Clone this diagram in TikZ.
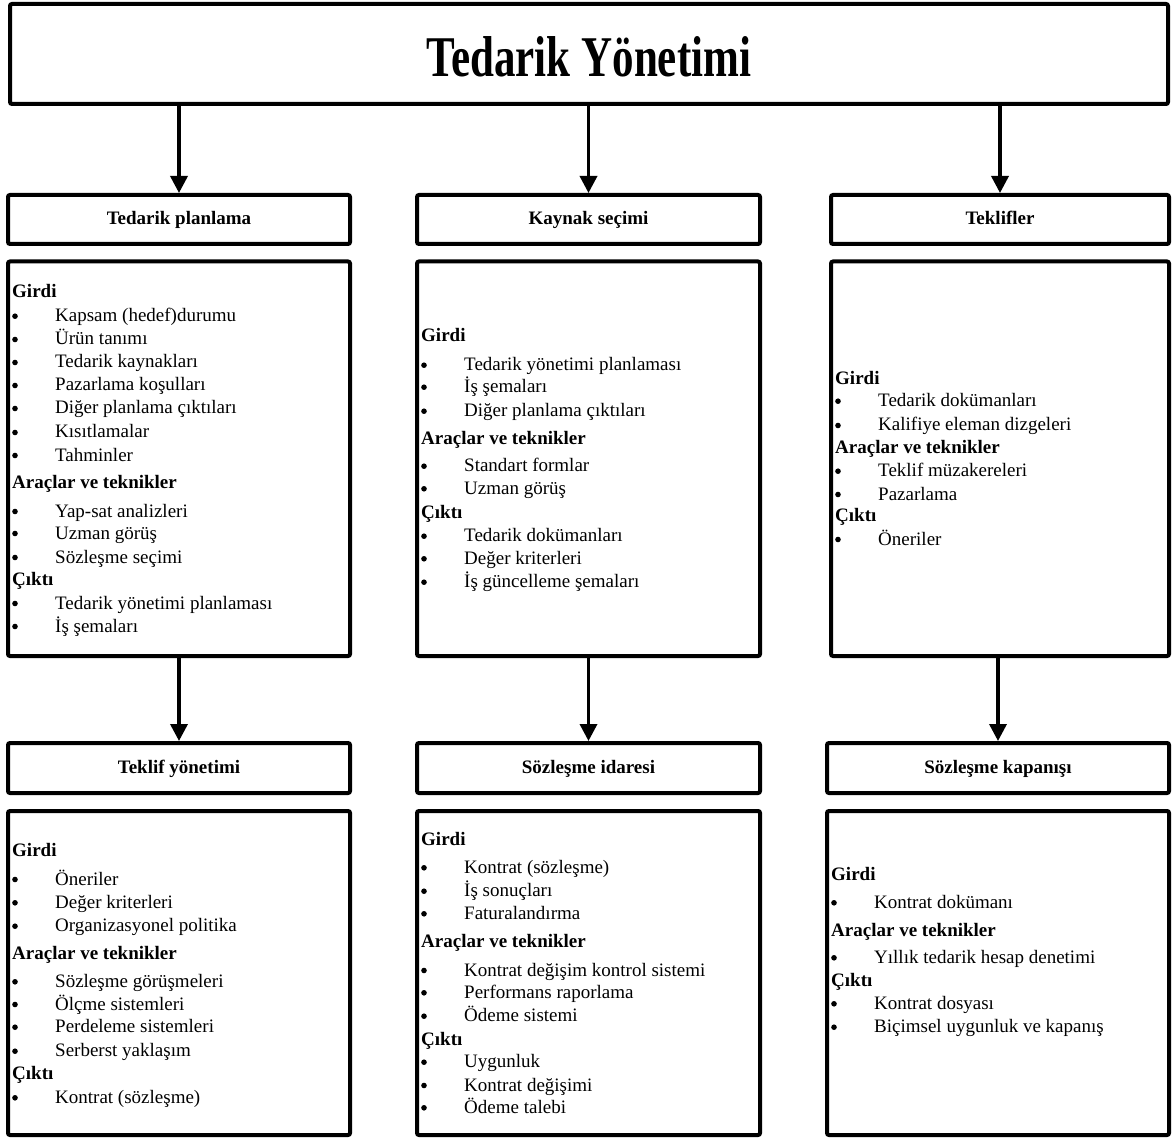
\documentclass[tikz,border=0pt]{standalone}
\usepackage{fontspec}
\setmainfont{Liberation Serif}
\usepackage{graphicx}
\usetikzlibrary{arrows.meta}

\tikzset{
  box/.style={draw, line width=4pt, rounded corners=2pt, outer sep=0pt, inner sep=0pt},
  hdbox/.style={box, font=\fontsize{19}{23}\selectfont\bfseries, text height=14pt, text depth=3pt},
  flow/.style={-{Triangle[width=17pt,length=17pt]}, line width=3.5pt, shorten >=2pt, shorten <=2pt},
  grpfont/.style={anchor=base west, inner sep=0pt, font=\fontsize{19}{23}\selectfont\bfseries},
  itmfont/.style={anchor=base west, inner sep=0pt, font=\fontsize{19}{23}\selectfont},
  dot/.style={circle, fill, inner sep=0pt, minimum size=5.6pt},
}
% group heading: x, baseline y, text
\newcommand{\grp}[3]{\node[grpfont] at (#1,#2) {#3};}
% bulleted entry: x of the bullet column, baseline y, text
\newcommand{\itm}[3]{\node[dot] at (#1+3,#2-5.5) {};\node[itmfont] at (#1+43,#2) {#3};}

\begin{document}
\begin{tikzpicture}[x=1pt,y=-1pt]
\useasboundingbox (0,0) rectangle (1173,1139);

% title
\node[box, minimum width=1158pt, minimum height=100pt] (title) at (589,54) {};
\node[anchor=base, inner sep=0pt] (titletext) at (588.8,76.7)
  {\scalebox{1}[1.34]{\fontsize{43}{50}\selectfont\bfseries Tedarik Yönetimi}};

% stage headers
\node[hdbox, minimum width=342pt, minimum height=49pt] (h1) at (179,219.5) {Tedarik planlama};
\node[hdbox, minimum width=343pt, minimum height=49pt] (h2) at (588.5,219.5) {Kaynak seçimi};
\node[hdbox, minimum width=338pt, minimum height=49pt] (h3) at (1000,219.5) {Teklifler};
\node[hdbox, minimum width=342pt, minimum height=50pt] (h4) at (179,768) {Teklif yönetimi};
\node[hdbox, minimum width=343pt, minimum height=50pt] (h5) at (588.5,768) {Sözleşme idaresi};
\node[hdbox, minimum width=342pt, minimum height=50pt] (h6) at (998,768) {Sözleşme kapanışı};

% content frames
\node[box, minimum width=342pt, minimum height=394.5pt] (b1) at (179,458.75) {};
\node[box, minimum width=343pt, minimum height=394.5pt] (b2) at (588.5,458.75) {};
\node[box, minimum width=338pt, minimum height=394.5pt] (b3) at (1000,458.75) {};
\node[box, minimum width=342pt, minimum height=324pt] (b4) at (179,973) {};
\node[box, minimum width=343pt, minimum height=324pt] (b5) at (588.5,973) {};
\node[box, minimum width=342pt, minimum height=324pt] (b6) at (998,973) {};

% connectors
\draw[flow] (title.south -| h1.north) -- (h1.north);
\draw[flow] (title.south -| h2.north) -- (h2.north);
\draw[flow] (title.south -| h3.north) -- (h3.north);
\draw[flow] (b1.south) -- (h4.north);
\draw[flow] (b2.south) -- (h5.north);
\draw[flow] (b3.south -| h6.north) -- (h6.north);

% Tedarik planlama
\grp{12}{298}{Girdi}
\itm{12}{321.7}{Kapsam (hedef)durumu}
\itm{12}{345}{Ürün tanımı}
\itm{12}{368}{Tedarik kaynakları}
\itm{12}{391}{Pazarlama koşulları}
\itm{12}{414}{Diğer planlama çıktıları}
\itm{12}{438}{Kısıtlamalar}
\itm{12}{461}{Tahminler}
\grp{12}{488}{Araçlar ve teknikler}
\itm{12}{517}{Yap-sat analizleri}
\itm{12}{539}{Uzman görüş}
\itm{12}{563}{Sözleşme seçimi}
\grp{12}{585}{Çıktı}
\itm{12}{609}{Tedarik yönetimi planlaması}
\itm{12}{632}{İş şemaları}

% Kaynak seçimi
\grp{421}{341.7}{Girdi}
\itm{421}{370.7}{Tedarik yönetimi planlaması}
\itm{421}{392.7}{İş şemaları}
\itm{421}{416.7}{Diğer planlama çıktıları}
\grp{421}{445}{Araçlar ve teknikler}
\itm{421}{471.7}{Standart formlar}
\itm{421}{494.3}{Uzman görüş}
\grp{421}{518.3}{Çıktı}
\itm{421}{541.7}{Tedarik dokümanları}
\itm{421}{564.3}{Değer kriterleri}
\itm{421}{587.7}{İş güncelleme şemaları}

% Teklifler
\grp{835}{384.3}{Girdi}
\itm{835}{406.7}{Tedarik dokümanları}
\itm{835}{431}{Kalifiye eleman dizgeleri}
\grp{835}{453.3}{Araçlar ve teknikler}
\itm{835}{476.7}{Teklif müzakereleri}
\itm{835}{500}{Pazarlama}
\grp{835}{521.7}{Çıktı}
\itm{835}{545}{Öneriler}

% Teklif yönetimi
\grp{12}{856.7}{Girdi}
\itm{12}{885}{Öneriler}
\itm{12}{908.3}{Değer kriterleri}
\itm{12}{931.7}{Organizasyonel politika}
\grp{12}{959.3}{Araçlar ve teknikler}
\itm{12}{987.3}{Sözleşme görüşmeleri}
\itm{12}{1010}{Ölçme sistemleri}
\itm{12}{1032.7}{Perdeleme sistemleri}
\itm{12}{1056.7}{Serberst yaklaşım}
\grp{12}{1079.3}{Çıktı}
\itm{12}{1103.3}{Kontrat (sözleşme)}

% Sözleşme idaresi
\grp{421}{845}{Girdi}
\itm{421}{873.3}{Kontrat (sözleşme)}
\itm{421}{896.7}{İş sonuçları}
\itm{421}{919.3}{Faturalandırma}
\grp{421}{947.3}{Araçlar ve teknikler}
\itm{421}{976}{Kontrat değişim kontrol sistemi}
\itm{421}{998.3}{Performans raporlama}
\itm{421}{1021.7}{Ödeme sistemi}
\grp{421}{1045}{Çıktı}
\itm{421}{1067.7}{Uygunluk}
\itm{421}{1091}{Kontrat değişimi}
\itm{421}{1113.3}{Ödeme talebi}

% Sözleşme kapanışı
\grp{831}{880}{Girdi}
\itm{831}{908.3}{Kontrat dokümanı}
\grp{831}{936.7}{Araçlar ve teknikler}
\itm{831}{963.3}{Yıllık tedarik hesap denetimi}
\grp{831}{986.7}{Çıktı}
\itm{831}{1009.3}{Kontrat dosyası}
\itm{831}{1032.7}{Biçimsel uygunluk ve kapanış}

\end{tikzpicture}
\end{document}
